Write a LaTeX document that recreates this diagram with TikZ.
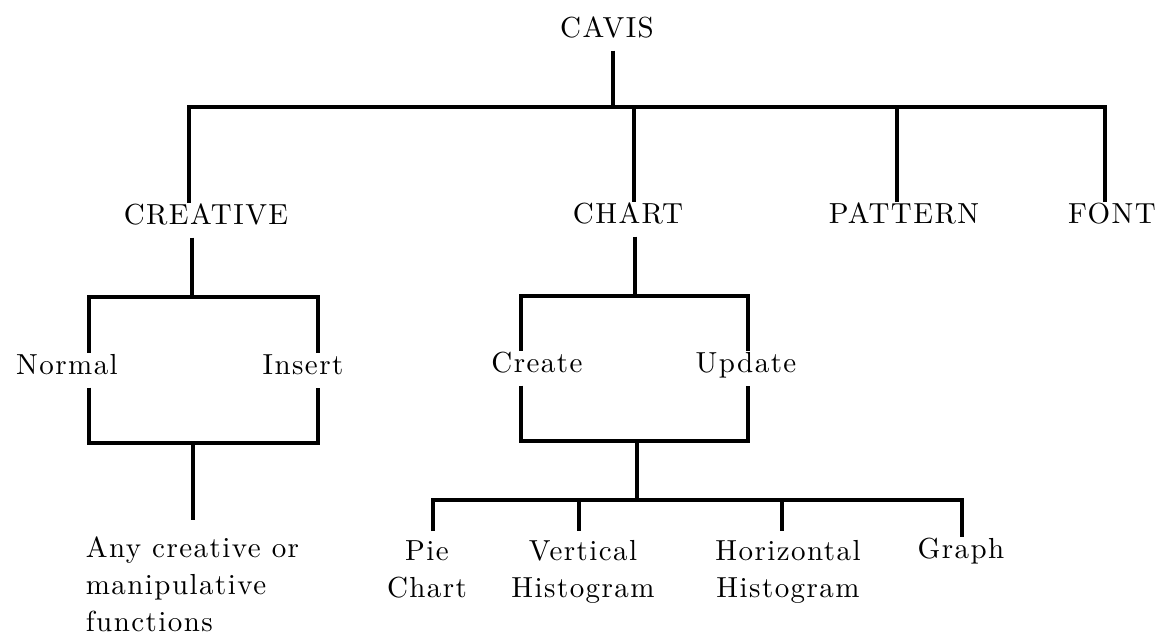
\documentclass[tikz,border=0pt]{standalone}
\usepackage{fontspec}
\setmainfont{lmroman10-regular.otf}[LetterSpace=5]
\usetikzlibrary{positioning,calc}

\tikzset{
  lbl/.style={inner sep=5pt, font=\fontsize{16.5}{21}\selectfont, anchor=base},
  one/.style={lbl, text height=0.7em, text depth=0.25em},
  tree/.style={line width=1.8pt, line join=miter},
}

\begin{document}
\begin{tikzpicture}[x=0.02cm, y=-0.02cm]
    \useasboundingbox (0,0) rectangle (1159,637);

    % labels
    \node[one] (cavis) at (607,37) {CAVIS};
    \node[one] (creative) at (206,224) {CREATIVE};
    \node[one] (chart) at (628,223) {CHART};
    \node[one] (pattern) at (904,223) {PATTERN};
    \node[one] (font) at (1112,223) {FONT};
    \node[one] (normal) at (67,374) {Normal};
    \node[one] (insert) at (303,374) {Insert};
    \node[one] (create) at (537,372) {Create};
    \node[one] (update) at (746,372) {Update};
    \node[lbl, align=left, anchor=base west, inner sep=2pt] (any) at (82,631) {Any creative or\\manipulative\\functions};
    \node[lbl, align=center] (pie) at (427,597) {Pie\\Chart};
    \node[lbl, align=center] (vertical) at (583,597) {Vertical\\Histogram};
    \node[lbl, align=center] (horizontal) at (788,597) {Horizontal\\Histogram};
    \node[one] (graph) at (961,558) {Graph};

    % junctions
    \coordinate (root) at (613,107);
    \coordinate (top-l) at (189,107);
    \coordinate (top-r) at (1105,107);
    \coordinate (cr-t) at (192,297);
    \coordinate (cr-l) at (89,297);
    \coordinate (cr-r) at (318,297);
    \coordinate (cr-bl) at (89,443);
    \coordinate (cr-br) at (318,443);
    \coordinate (cr-b) at (193,443);
    \coordinate (ch-t) at (635,296);
    \coordinate (ch-l) at (521,296);
    \coordinate (ch-r) at (748,296);
    \coordinate (ch-bl) at (521,441);
    \coordinate (ch-br) at (748,441);
    \coordinate (ch-b) at (637,441);
    \coordinate (leaf-c) at (637,500);
    \coordinate (leaf-l) at (433,500);
    \coordinate (leaf-r) at (962,500);

    % top level
    \draw[tree] (cavis.south -| root) -- (root);
    \draw[tree] (creative.north -| top-l) -- (top-l) -- (top-r) -- (font.north -| top-r);
    \foreach \n/\x in {chart/634, pattern/897}
        \draw[tree] (\x,107) -- (\n.north -| \x,107);

    % creative branch
    \draw[tree] (creative.south -| cr-t) -- (cr-t);
    \draw[tree] (normal.north -| cr-l) -- (cr-l) -- (cr-r) -- (insert.north -| cr-r);
    \draw[tree] (normal.south -| cr-bl) -- (cr-bl) -- (cr-br) -- (insert.south -| cr-br);
    \draw[tree, shorten >=7pt] (cr-b) -- (any.north -| cr-b);

    % chart branch
    \draw[tree] (chart.south -| ch-t) -- (ch-t);
    \draw[tree] (create.north -| ch-l) -- (ch-l) -- (ch-r) -- (update.north -| ch-r);
    \draw[tree] (create.south -| ch-bl) -- (ch-bl) -- (ch-br) -- (update.south -| ch-br);
    \draw[tree] (ch-b) -- (leaf-c);
    \draw[tree] (pie.north -| leaf-l) -- (leaf-l) -- (leaf-r) -- (graph.north -| leaf-r);
    \foreach \n/\x in {vertical/579, horizontal/782}
        \draw[tree] (\x,500) -- (\n.north -| \x,500);
\end{tikzpicture}
\end{document}
